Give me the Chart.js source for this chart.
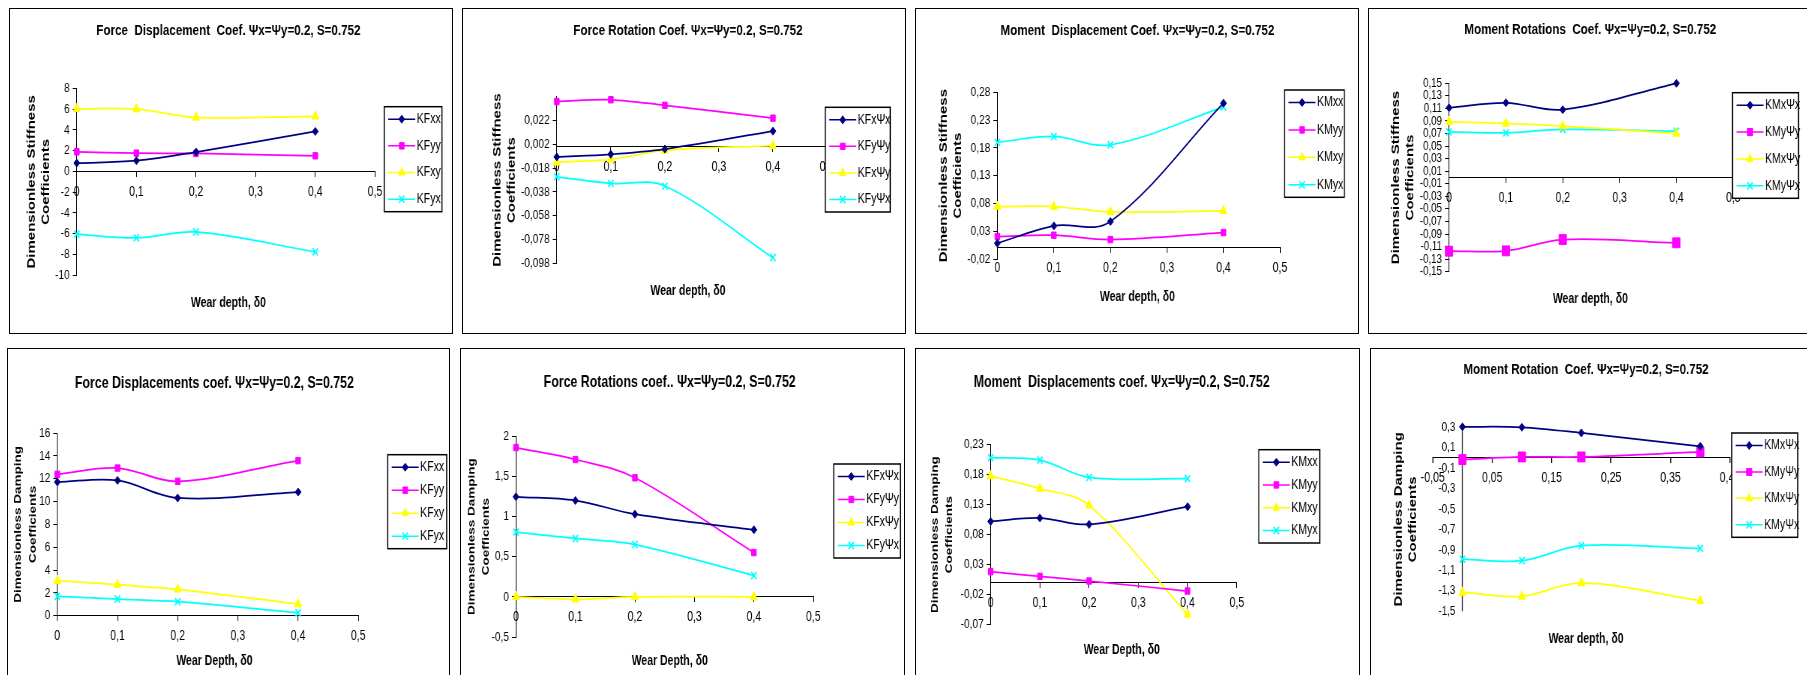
<!DOCTYPE html>
<html lang="en">

<head>
    <meta charset="UTF-8">
    <title>Dimensionless stiffness and damping coefficients vs wear depth</title>
    <script src="https://cdn.jsdelivr.net/npm/chart.js"></script>
    <style>
        body {
            margin: 0;
            width: 1807px;
            height: 675px;
            overflow: hidden;
            background: #fff;
            position: relative;
        }

        .panel {
            position: absolute;
            border: 1px solid #000;
            background: #fff;
        }

        .panel canvas {
            display: block;
        }
    </style>
</head>

<body>
    <div class="panel" style="left:9px;top:8px"><canvas id="c1" width="442" height="324"></canvas></div>
    <div class="panel" style="left:462px;top:8px"><canvas id="c2" width="442" height="324"></canvas></div>
    <div class="panel" style="left:915px;top:8px"><canvas id="c3" width="442" height="324"></canvas></div>
    <div class="panel" style="left:1368px;top:8px"><canvas id="c4" width="442" height="324"></canvas></div>
    <div class="panel" style="left:7px;top:348px"><canvas id="c5" width="441" height="330"></canvas></div>
    <div class="panel" style="left:460px;top:348px"><canvas id="c6" width="443" height="330"></canvas></div>
    <div class="panel" style="left:915px;top:348px"><canvas id="c7" width="443" height="330"></canvas></div>
    <div class="panel" style="left:1370px;top:348px"><canvas id="c8" width="441" height="330"></canvas></div>

<script>
    // wear depth values where the coefficients were computed
    const wear = [0, 0.1, 0.2, 0.4];

    // stiffness: force displacement
    const kFxx = [0.8, 1.03, 1.86, 3.85];
    const kFyy = [1.89, 1.76, 1.73, 1.5];
    const kFxy = [6.03, 6.0, 5.2, 5.3];
    const kFyx = [-6.03, -6.4, -5.83, -7.75];

    // stiffness: force rotation
    const kFxPx = [-0.0085, -0.0063, -0.0019, 0.0132];
    const kFyPy = [0.0381, 0.0396, 0.0349, 0.0241];
    const kFxPy = [-0.013, -0.0105, -0.003, 0.0009];
    const kFyPx = [-0.0252, -0.0308, -0.033, -0.0933];

    // stiffness: moment displacement
    const kMxx = [0.0084, 0.0396, 0.0474, 0.2605];
    const kMyy = [0.0204, 0.0228, 0.015, 0.0276];
    const kMxy = [0.0744, 0.0744, 0.0648, 0.0666];
    const kMyx = [0.19, 0.2005, 0.1855, 0.2533];

    // stiffness: moment rotation
    const kMxPx = [0.111, 0.119, 0.108, 0.15];
    const kMyPy = [-0.1173, -0.1168, -0.0988, -0.104];
    const kMxPy = [0.0887, 0.086, 0.0818, 0.07];
    const kMyPx = [0.0727, 0.0711, 0.0765, 0.0738];

    // damping: force displacement
    const cFxx = [11.71, 11.85, 10.31, 10.83];
    const cFyy = [12.38, 12.93, 11.77, 13.58];
    const cFxy = [3.07, 2.72, 2.31, 1.02];
    const cFyx = [1.69, 1.46, 1.23, 0.26];

    // damping: force rotation
    const cFxPx = [1.246, 1.2, 1.03, 0.835];
    const cFyPy = [1.86, 1.711, 1.483, 0.552];
    const cFxPy = [0, -0.03, 0, 0];
    const cFyPx = [0.806, 0.727, 0.652, 0.266];

    // damping: moment displacement
    const cMxx = [0.1022, 0.1078, 0.0972, 0.1267];
    const cMyy = [0.0183, 0.0106, 0.0028, -0.0139];
    const cMxy = [0.1778, 0.1567, 0.1289, -0.0528];
    const cMyx = [0.2083, 0.2044, 0.1756, 0.1733];

    // damping: moment rotation
    const cMxPx = [0.305, 0.3, 0.245, 0.114];
    const cMyPy = [-0.016, 0.01, 0.01, 0.059];
    const cMxPy = [-1.315, -1.354, -1.223, -1.396];
    const cMyPx = [-0.989, -1.005, -0.858, -0.884];

    // legend names
    const namesFD = ['KFxx', 'KFyy', 'KFxy', 'KFyx'];
    const namesFR = ['KFxΨx', 'KFyΨy', 'KFxΨy', 'KFyΨx'];
    const namesMD = ['KMxx', 'KMyy', 'KMxy', 'KMyx'];
    const namesMR = ['KMxΨx', 'KMyΨy', 'KMxΨy', 'KMyΨx'];

    // tick labels
    const xTicks = [0, 0.1, 0.2, 0.3, 0.4, 0.5];
    const xTicks8 = [-0.05, 0.05, 0.15, 0.25, 0.35, 0.45];
    const yTicks1 = [-10, -8, -6, -4, -2, 0, 2, 4, 6, 8];
    const yTicks2 = [-0.098, -0.078, -0.058, -0.038, -0.018, 0.002, 0.022];
    const yMax2 = 0.042;
    const yTicks3 = [-0.02, 0.03, 0.08, 0.13, 0.18, 0.23, 0.28];
    const yTicks4 = [-0.15, -0.13, -0.11, -0.09, -0.07, -0.05, -0.03, -0.01, 0.01, 0.03, 0.05, 0.07, 0.09, 0.11, 0.13, 0.15];
    const yTicks5 = [0, 2, 4, 6, 8, 10, 12, 14, 16];
    const yTicks6 = [-0.5, 0, 0.5, 1, 1.5, 2];
    const yTicks7 = [-0.07, -0.02, 0.03, 0.08, 0.13, 0.18, 0.23];
    const yTicks8 = [-1.5, -1.3, -1.1, -0.9, -0.7, -0.5, -0.3, -0.1, 0.1, 0.3];

    const stiffTitle = ['Dimensionless Stiffness', 'Coefficients'];
    const dampTitle = ['Dimensionless Damping', 'Coefficients'];

    const FONT = "'Liberation Sans', Arial, sans-serif";

    // the old sheet was squeezed sideways: draw wider, show narrower
    const SX = 0.75;
    const X = v => v / SX;

    const colors = ['#000080', '#FF00FF', '#FFFF00', '#00FFFF'];
    const markers = ['rectRot', 'rect', 'triangle', 'crossRot'];
    const markerSize = [4, 4.5, 5.5, 5];

    const measure = document.createElement('canvas').getContext('2d');

    function fmt(v) {
        return String(parseFloat(Number(v).toFixed(4))).replace('.', ',');
    }

    // Excel style legend: framed box, line with marker through it
    const boxLegend = {
        id: 'boxLegend',
        afterDraw(chart, args, opts) {
            const ctx = chart.ctx;
            const x = X(opts.x), w = X(opts.w);
            const step = (opts.h - 25) / 3;
            ctx.save();
            ctx.fillStyle = '#fff';
            ctx.fillRect(x, opts.y, w, opts.h);
            ctx.strokeStyle = '#000';
            ctx.lineWidth = 1.5;
            ctx.strokeRect(x, opts.y, w, opts.h);
            chart.data.datasets.forEach((ds, i) => {
                const cy = opts.y + 12.5 + i * step;
                ctx.strokeStyle = ds.borderColor;
                ctx.fillStyle = ds.borderColor;
                ctx.lineWidth = 1.5;
                ctx.beginPath();
                ctx.moveTo(x + X(4), cy);
                ctx.lineTo(x + X(31), cy);
                ctx.stroke();
                ctx.lineWidth = ds.pointBorderWidth;
                Chart.helpers.drawPoint(ctx, {
                    pointStyle: ds.pointStyle,
                    radius: Math.min(ds.pointRadius, 5),
                    rotation: 0,
                    borderWidth: ds.pointBorderWidth
                }, x + X(17.5), cy);
                ctx.fillStyle = '#000';
                ctx.font = '14px ' + FONT;
                ctx.textBaseline = 'middle';
                ctx.textAlign = 'left';
                ctx.fillText(ds.label, x + X(32.5), cy);
            });
            ctx.restore();
        }
    };

    function drawPanel(id, p) {
        const canvas = document.getElementById(id);
        const cw = canvas.width, ch = canvas.height;
        canvas.style.width = cw + 'px';
        canvas.style.height = ch + 'px';
        canvas.width = Math.round(X(cw));

        // left/right padding (screen px) so the title and the x title centre on p.center
        let padL = 0, padR = 0;
        if (2 * p.center > cw) {
            padL = 2 * p.center - cw;
        } else {
            padR = cw - 2 * p.center;
        }
        const spare = Math.max(0, cw - padR - p.right);
        const yWidth = p.left - padL;

        // y title: two rotated lines, 14.3px apart on screen
        const yLh = X(14.3);
        const yTitlePad = { top: X(p.yTitleX - padL) - yLh / 2, bottom: 0 };

        const tLh = p.titleSize * 1.2;
        const sLh = 14 * 1.2;
        const yTickSize = p.yTickSize || 13.5;

        const datasets = p.names.map((name, i) => ({
            label: name,
            data: wear.map((x, j) => ({ x: x, y: p.series[i][j] })),
            borderColor: colors[i],
            backgroundColor: colors[i],
            pointBackgroundColor: colors[i],
            pointBorderColor: colors[i],
            borderWidth: 1.75,
            pointStyle: markers[i],
            pointRadius: (i === 1 && p.bigSquares) ? 7 : markerSize[i],
            pointBorderWidth: i === 3 ? 1.75 : 1,
            tension: 0.35,
            clip: false
        }));

        // last panel: the y axis crosses at x = 0 inside the plot. The labels are
        // mirrored in from the left edge and the axis line is the x grid line at 0.
        const crossY = p.axisX !== undefined;
        const xTickVals = crossY ? p.xTicks.concat([0]) : p.xTicks;
        let mirrorPad = 0;
        if (crossY) {
            measure.font = yTickSize + 'px ' + FONT;
            const widest = Math.max(...p.yTicks.map(v => measure.measureText(fmt(v)).width));
            mirrorPad = X(p.axisX - 7 - p.left) - widest;
        }

        const scales = {
            x: {
                type: 'linear',
                position: { y: 0 },
                min: p.xTicks[0],
                max: p.xTicks[p.xTicks.length - 1],
                afterBuildTicks: s => { s.ticks = xTickVals.map(v => ({ value: v })); },
                grid: crossY ? {
                    drawOnChartArea: true, tickLength: 5, lineWidth: X(1),
                    color: c => (c.tick && c.tick.value === 0) ? '#000' : 'rgba(0,0,0,0)',
                    tickColor: c => (c.tick && c.tick.value === 0) ? 'rgba(0,0,0,0)' : '#000'
                } : { drawOnChartArea: false, tickLength: 5, color: '#000' },
                border: { color: '#000' },
                ticks: {
                    autoSkip: false, maxRotation: 0, padding: 7, color: '#000',
                    font: { family: FONT, size: 14 },
                    callback: v => (crossY && v === 0) ? '' : fmt(v)
                }
            },
            y: {
                type: 'linear',
                position: 'left',
                min: p.yTicks[0],
                max: p.yMax !== undefined ? p.yMax : p.yTicks[p.yTicks.length - 1],
                afterBuildTicks: s => { s.ticks = p.yTicks.map(v => ({ value: v })); },
                afterFit: s => { s.width = X(yWidth); },
                grid: crossY ? { display: false, drawTicks: false } :
                    { drawOnChartArea: false, tickLength: X(4), color: '#000' },
                border: { display: !crossY, color: '#000' },
                ticks: {
                    autoSkip: false, color: '#000',
                    mirror: crossY, crossAlign: crossY ? 'far' : 'near',
                    padding: crossY ? mirrorPad : X(3),
                    font: { family: FONT, size: yTickSize }, callback: fmt
                },
                title: {
                    display: true, text: p.yTitle, color: '#000', padding: yTitlePad,
                    font: { family: FONT, size: p.yTitleSize, weight: 'bold', lineHeight: yLh / p.yTitleSize }
                }
            },
            // empty axis that only keeps the room for the legend
            yPad: {
                position: 'right',
                grid: { display: false },
                border: { display: false },
                ticks: { display: false },
                afterFit: s => { s.width = X(spare); }
            }
        };

        new Chart(canvas, {
            type: 'line',
            data: { datasets: datasets },
            plugins: [boxLegend],
            options: {
                responsive: false,
                animation: false,
                layout: { padding: { left: X(padL), right: X(padR), top: 0, bottom: 0 } },
                scales: scales,
                plugins: {
                    legend: { display: false },
                    tooltip: { enabled: false },
                    title: {
                        display: true, text: p.title, color: '#000',
                        font: { family: FONT, size: p.titleSize, weight: 'bold', lineHeight: 1.2 },
                        padding: { top: p.titleY - tLh / 2, bottom: p.top - p.titleY - tLh / 2 }
                    },
                    subtitle: {
                        display: true, position: 'bottom', text: p.xTitle, color: '#000',
                        font: { family: FONT, size: 14, weight: 'bold', lineHeight: 1.2 },
                        padding: { top: p.xTitleY - sLh / 2 - p.bottom, bottom: ch - p.xTitleY - sLh / 2 }
                    },
                    boxLegend: { x: p.legend[0], y: p.legend[1], w: p.legend[2], h: p.legend[3] }
                }
            }
        });
    }

    drawPanel('c1', {
        title: 'Force  Displacement  Coef. Ψx=Ψy=0.2, S=0.752', xTitle: 'Wear depth, δ0', yTitle: stiffTitle,
        names: namesFD, series: [kFxx, kFyy, kFxy, kFyx], xTicks: xTicks, yTicks: yTicks1,
        left: 66.7, right: 365, top: 79.3, bottom: 266.3, titleY: 21.5, titleSize: 15.5, yTitleSize: 15,
        xTitleY: 294.3, center: 218.4, yTitleX: 21.7, legend: [374, 97.7, 57.7, 105]
    });

    drawPanel('c2', {
        title: 'Force Rotation Coef. Ψx=Ψy=0.2, S=0.752', xTitle: 'Wear depth, δ0', yTitle: stiffTitle,
        names: namesFR, series: [kFxPx, kFyPy, kFxPy, kFyPx], xTicks: xTicks, yTicks: yTicks2, yMax: yMax2,
        left: 93.7, right: 364, top: 87.9, bottom: 254.3, titleY: 21.5, titleSize: 15.5, yTitleSize: 15,
        xTitleY: 282, center: 225, yTitleX: 34.7, legend: [362, 98.3, 65, 104.7]
    });

    drawPanel('c3', {
        title: 'Moment  Displacement Coef. Ψx=Ψy=0.2, S=0.752', xTitle: 'Wear depth, δ0', yTitle: stiffTitle,
        names: namesMD, series: [kMxx, kMyy, kMxy, kMyx], xTicks: xTicks, yTicks: yTicks3,
        left: 81.3, right: 364, top: 83.3, bottom: 250, titleY: 21.5, titleSize: 15.5, yTitleSize: 15,
        xTitleY: 287.7, center: 221.4, yTitleX: 27.3, legend: [368.3, 81, 59.7, 107.3]
    });

    drawPanel('c4', {
        title: 'Moment Rotations  Coef. Ψx=Ψy=0.2, S=0.752', xTitle: 'Wear depth, δ0', yTitle: stiffTitle,
        names: namesMR, series: [kMxPx, kMyPy, kMxPy, kMyPx], xTicks: xTicks, yTicks: yTicks4, yTickSize: 13,
        bigSquares: true,
        left: 80, right: 364.3, top: 74.3, bottom: 262.7, titleY: 20.5, titleSize: 15.5, yTitleSize: 15,
        xTitleY: 290, center: 221.3, yTitleX: 27, legend: [363.3, 83.7, 66, 105.6]
    });

    drawPanel('c5', {
        title: 'Force Displacements coef. Ψx=Ψy=0.2, S=0.752', xTitle: 'Wear Depth, δ0', yTitle: dampTitle,
        names: namesFD, series: [cFxx, cFyy, cFxy, cFyx], xTicks: xTicks, yTicks: yTicks5,
        left: 49.3, right: 350.3, top: 84, bottom: 266.7, titleY: 34.7, titleSize: 16.5, yTitleSize: 13.5,
        xTitleY: 312.3, center: 206.4, yTitleX: 10.3, legend: [379.7, 105.7, 59, 94]
    });

    drawPanel('c6', {
        title: 'Force Rotations coef.. Ψx=Ψy=0.2, S=0.752', xTitle: 'Wear Depth, δ0', yTitle: dampTitle,
        names: namesFR, series: [cFxPx, cFyPy, cFxPy, cFyPx], xTicks: xTicks, yTicks: yTicks6,
        left: 55, right: 352.3, top: 87.3, bottom: 288, titleY: 33.3, titleSize: 16.5, yTitleSize: 13.5,
        xTitleY: 312.3, center: 208.7, yTitleX: 10.7, legend: [373, 115, 66.7, 94]
    });

    drawPanel('c7', {
        title: 'Moment  Displacements coef. Ψx=Ψy=0.2, S=0.752', xTitle: 'Wear Depth, δ0', yTitle: dampTitle,
        names: namesMD, series: [cMxx, cMyy, cMxy, cMyx], xTicks: xTicks, yTicks: yTicks7,
        left: 74.7, right: 320.7, top: 95.7, bottom: 275.7, titleY: 33.3, titleSize: 16.5, yTitleSize: 13.5,
        xTitleY: 300.7, center: 205.7, yTitleX: 19, legend: [343, 100.7, 61, 93.3]
    });

    drawPanel('c8', {
        title: 'Moment Rotation  Coef. Ψx=Ψy=0.2, S=0.752', xTitle: 'Wear depth, δ0', yTitle: dampTitle,
        names: namesMR, series: [cMxPx, cMyPy, cMxPy, cMyPx], xTicks: xTicks8, yTicks: yTicks8, yTickSize: 13,
        bigSquares: true, axisX: 91.3,
        left: 61.7, right: 359, top: 78.3, bottom: 262.3, titleY: 20.9, titleSize: 15.5, yTitleSize: 15,
        xTitleY: 290, center: 215, yTitleX: 27.3, legend: [360.7, 84, 66, 104.3]
    });
</script>
</body>

</html>
